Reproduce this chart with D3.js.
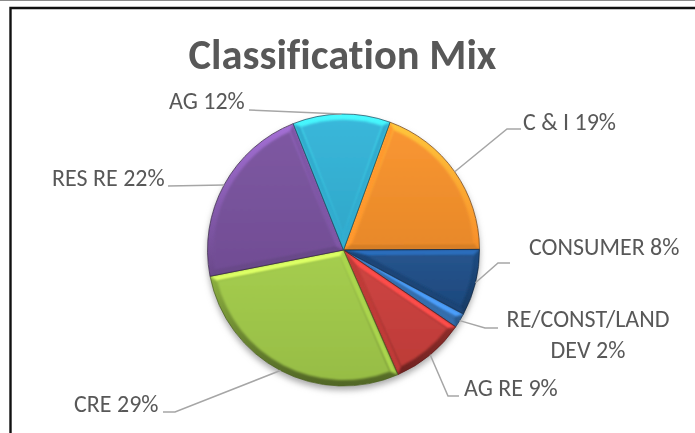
<!DOCTYPE html>
<html>
<head>
<meta charset="utf-8">
<script src="https://cdn.jsdelivr.net/npm/d3@7"></script>
<style>
  html, body { margin: 0; padding: 0; background: #fff; }
  svg { display: block; }
  text { font-family: Carlito, Lato, "Open Sans", sans-serif; fill: #595959; font-variant-ligatures: none; }
</style>
</head>
<body>
<div id="chart"></div>
<script>
const categories = ["C & I", "CONSUMER", "RE/CONST/LAND DEV", "AG RE", "CRE", "RES RE", "AG"];
const shares = [19.4, 7.9, 1.75, 8.9, 28.5, 22.1, 11.6];
const percentLabels = ["19%", "8%", "2%", "9%", "29%", "22%", "12%"];
const baseColors = ["#f9932c", "#1f4f88", "#3b7cc4", "#cb3f3c", "#a2cb4a", "#7a539f", "#34b5d9"];
const firstSliceDeg = 20;

const width = 695, height = 433;
const cx = 343.5, cy = 250, radius = 136, bevel = 6;

const svg = d3.select("#chart").append("svg")
  .attr("width", width)
  .attr("height", height);

const defs = svg.append("defs");

// soft shadow under the whole pie
const shadow = defs.append("filter").attr("id", "pieShadow")
  .attr("x", "-10%").attr("y", "-10%").attr("width", "120%").attr("height", "120%");
shadow.append("feGaussianBlur").attr("stdDeviation", 3);

const soften = defs.append("filter").attr("id", "soften");
soften.append("feGaussianBlur").attr("stdDeviation", 1);

const textBlur = defs.append("filter").attr("id", "textBlur");
textBlur.append("feGaussianBlur").attr("stdDeviation", 0.3);

// frame
svg.append("line").attr("x1", 0).attr("x2", width).attr("y1", 0.5).attr("y2", 0.5)
  .attr("stroke", "#8c8c8c").attr("stroke-width", 1);
svg.append("path")
  .attr("d", d3.line()([[10.5, height], [10.5, 8], [width, 8]]))
  .attr("fill", "none").attr("stroke", "#111").attr("stroke-width", 2.4);

svg.append("text")
  .attr("x", 342.5).attr("y", 69)
  .attr("text-anchor", "middle")
  .attr("filter", "url(#textBlur)")
  .style("font-size", "42.5px").style("font-weight", "700")
  .text("Classification Mix");

const pie = d3.pie().sort(null)
  .startAngle(firstSliceDeg * Math.PI / 180)
  .endAngle((firstSliceDeg + 360) * Math.PI / 180);
const arcs = pie(shares);
const arc = d3.arc().innerRadius(0).outerRadius(radius);

const g = svg.append("g").attr("transform", `translate(${cx},${cy})`);

g.append("circle").attr("cy", 4).attr("r", radius)
  .attr("fill", "#a8a8a8").attr("filter", "url(#pieShadow)");

// shade of a flat chamfer facing direction a (0 = up, clockwise)
function shade(color, a) {
  const up = Math.cos(a);
  return up > 0 ? d3.rgb(color).brighter(up * up * 0.9).formatHex()
                : d3.interpolateRgb(color, "#000")(-up * 0.14);
}

function polar(a, r) {
  return [Math.sin(a) * r, -Math.cos(a) * r];
}

const slices = g.selectAll("g.slice").data(arcs).enter().append("g").attr("class", "slice");

slices.each(function (d, i) {
  const s = d3.select(this);
  const color = baseColors[i];
  const mid = (d.startAngle + d.endAngle) / 2;
  const half = (d.endAngle - d.startAngle) / 2;
  const rIn = radius - bevel;
  const apexDist = Math.min(bevel / Math.sin(half), rIn);
  const apex = polar(mid, apexDist);
  const off = Math.min(Math.asin(bevel / rIn), half);
  const a0 = d.startAngle + off, a1 = d.endAngle - off;

  const clipId = "clip" + i;
  defs.append("clipPath").attr("id", clipId).append("path").attr("d", arc(d));

  const rim = defs.append("linearGradient").attr("id", "rim" + i)
    .attr("gradientUnits", "userSpaceOnUse")
    .attr("x1", 0).attr("x2", 0).attr("y1", -radius).attr("y2", radius);
  rim.append("stop").attr("offset", 0).attr("stop-color", d3.rgb(color).brighter(0.9).formatHex());
  rim.append("stop").attr("offset", 0.45).attr("stop-color", color);
  rim.append("stop").attr("offset", 1).attr("stop-color", d3.interpolateRgb(color, "#000")(0.5));

  const body = defs.append("linearGradient").attr("id", "body" + i)
    .attr("x1", 0).attr("x2", 0).attr("y1", 0).attr("y2", 1);
  body.append("stop").attr("offset", 0).attr("stop-color", d3.interpolateRgb(color, "#fff")(0.03));
  body.append("stop").attr("offset", 1).attr("stop-color", d3.interpolateRgb(color, "#000")(0.07));

  const inner = s.append("g").attr("clip-path", `url(#${clipId})`);

  inner.append("path").attr("d", arc(d)).attr("fill", `url(#rim${i})`);

  // side chamfers, their outward normals point across the radial edges
  const p0 = polar(d.startAngle, radius), p1 = polar(d.endAngle, radius);
  const q0 = polar(a0, rIn), q1 = polar(a1, rIn);
  inner.append("path").attr("d", d3.line()([[0, 0], p0, q0, apex]) + "Z")
    .attr("fill", shade(color, d.startAngle - Math.PI / 2)).attr("filter", "url(#soften)");
  inner.append("path").attr("d", d3.line()([[0, 0], p1, q1, apex]) + "Z")
    .attr("fill", shade(color, d.endAngle + Math.PI / 2)).attr("filter", "url(#soften)");

  if (a1 > a0) {
    const path = d3.path();
    path.moveTo(apex[0], apex[1]);
    path.lineTo(q0[0], q0[1]);
    path.arc(0, 0, rIn, a0 - Math.PI / 2, a1 - Math.PI / 2);
    path.closePath();
    inner.append("path").attr("d", path.toString()).attr("fill", `url(#body${i})`).attr("filter", "url(#soften)");
  }

  s.append("path").attr("d", arc(d)).attr("fill", "none")
    .attr("stroke", d3.interpolateRgb(color, "#000")(0.5)).attr("stroke-width", 0.8);
});

// labels and leader lines, same order as categories
const labelX = [523, 529, 588, 464, 74, 52, 169];
const labelY = [130, 255, 327, 396, 412, 186, 109];
const leaderTail = [[521, 129], [510, 263], [498, 328], [459, 396], [163, 412], [168, 186], [249, 110]];
const leaderKnee = [[507, 129], [498, 263], [485, 328], [448, 396], [175, 412], [168, 186], [249, 110]];

g.append("g").selectAll("path").data(arcs).enter().append("path")
  .attr("fill", "none").attr("stroke", "#a6a6a6").attr("stroke-width", 1.5)
  .attr("d", (d, i) => {
    const a = (d.startAngle + d.endAngle) / 2;
    return d3.line()([[leaderTail[i][0] - cx, leaderTail[i][1] - cy],
      [leaderKnee[i][0] - cx, leaderKnee[i][1] - cy], polar(a, radius)]);
  });

categories.forEach((c, i) => {
  const t = svg.append("text").style("font-size", "24px")
    .attr("filter", "url(#textBlur)")
    .attr("x", labelX[i]).attr("y", labelY[i]);
  if (c === "RE/CONST/LAND DEV") {
    t.attr("text-anchor", "middle");
    t.append("tspan").attr("x", labelX[i]).text("RE/CONST/LAND");
    t.append("tspan").attr("x", labelX[i]).attr("dy", 31).text("DEV " + percentLabels[i]);
  } else {
    t.text(c + " " + percentLabels[i]);
  }
});
</script>
</body>
</html>
